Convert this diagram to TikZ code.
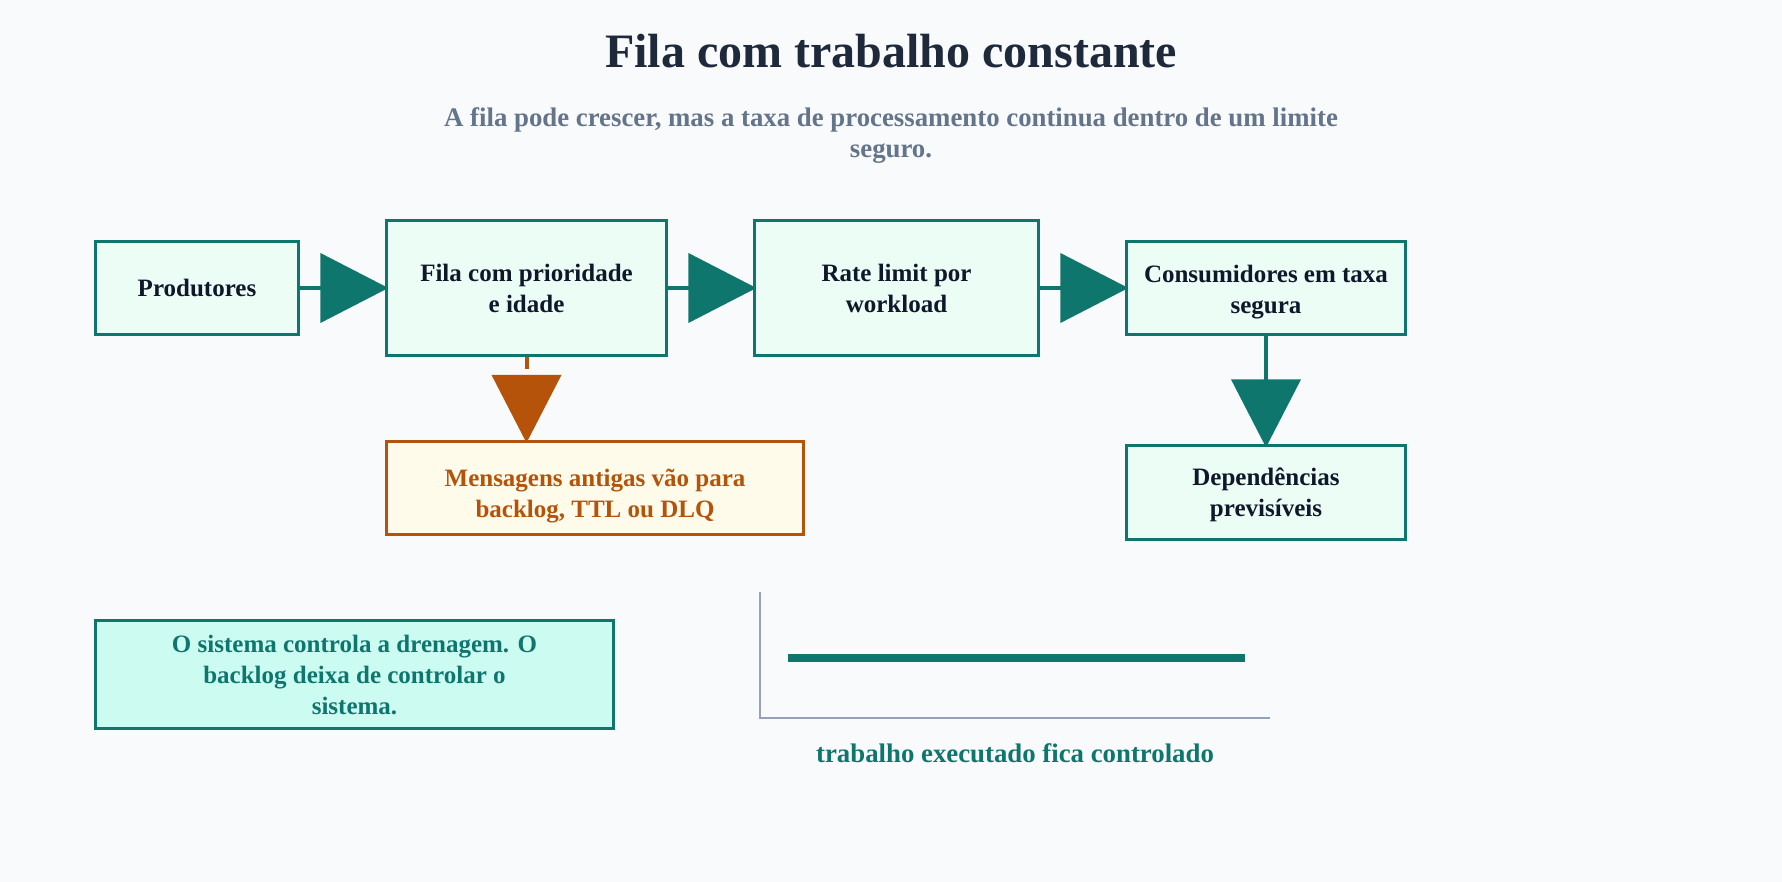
\documentclass[tikz,border=0pt]{standalone}
\usepackage{fontspec}
\setmainfont{Liberation Serif}
\usetikzlibrary{arrows.meta,positioning}
\definecolor{pagebg}{HTML}{F8FAFC}
\definecolor{tealline}{HTML}{0F766E}
\definecolor{mint}{HTML}{ECFDF5}
\definecolor{mintdeep}{HTML}{CCFBF1}
\definecolor{rust}{HTML}{B45309}
\definecolor{cream}{HTML}{FFFBEB}
\definecolor{ink}{HTML}{0F172A}
\definecolor{titleink}{HTML}{1E293B}
\definecolor{subink}{HTML}{64748B}
\definecolor{axisgray}{HTML}{94A3B8}

\begin{document}
\begin{tikzpicture}[
  >={Triangle[length=34pt,width=34.5pt]},
  node distance=42.5pt,
  every node/.style={font=\bfseries\fontsize{12.5}{15.5}\selectfont},
  stage/.style={draw=tealline,line width=1.5pt,fill=mint,text=ink,align=center,minimum height=46.5pt},
  warn/.style={draw=rust,line width=1.5pt,fill=cream,text=rust,align=center,minimum height=46.5pt},
  flow/.style={->,draw=tealline,line width=2pt,shorten >=-1.7pt},
  spill/.style={->,draw=rust,line width=2pt,dash pattern=on 6pt off 4pt,shorten >=-1.7pt},
  axis/.style={draw=axisgray,line width=1.25pt},
  trend/.style={draw=tealline,line width=4pt}
]
  \path[use as bounding box,fill=pagebg] (0,0) rectangle (891pt,-441pt);

  \node[anchor=base,text=titleink,font=\bfseries\fontsize{24}{28}\selectfont] (title) at (445.5pt,-34pt) {Fila com trabalho constante};
  \node[align=center,text=subink,font=\bfseries\fontsize{13.4}{15.5}\selectfont] (subtitle) at (445.5pt,-68pt)
    {A fila pode crescer, mas a taxa de processamento continua dentro de um limite\\seguro.};

  \node[stage,minimum width=101.5pt] (prod) at (98.5pt,-144pt) {Produtores};
  \node[stage,minimum width=140pt,minimum height=67pt,right=of prod] (fila) {Fila com prioridade\\e idade};
  \node[stage,minimum width=142pt,minimum height=67pt,right=of fila] (rate) {Rate limit por\\workload};
  \node[stage,minimum width=139.5pt,right=of rate] (cons) {\rule{0pt}{13.1pt}Consumidores em taxa\\segura};
  \node[stage,minimum width=139.5pt,minimum height=47pt,below=54pt of cons] (dep) {\rule{0pt}{11.6pt}Dependências\\previsíveis};
  \node[warn,minimum width=208.5pt,below=41.5pt of fila.south west,anchor=north west] (msg) {\rule{0pt}{17.6pt}Mensagens antigas vão para\\backlog, TTL ou DLQ};
  \node[stage,fill=mintdeep,text=tealline,minimum width=259pt,minimum height=54pt,
    below=141.5pt of prod.south west,anchor=north west] (note) {O sistema controla a drenagem. O\\backlog deixa de controlar o\\sistema.};

  \draw[flow] (prod) -- (fila);
  \draw[flow] (fila) -- (rate);
  \draw[flow] (rate) -- (cons);
  \draw[flow] (cons) -- (dep);
  \draw[spill] (fila.south) -- (fila.south |- msg.north);

  \coordinate (origin) at (380pt,-359pt);
  \draw[axis] (380pt,-296pt) -- (origin) -- (635pt,-359pt);
  \draw[trend] (394pt,-329pt) -- (622.5pt,-329pt);
  \node[anchor=base,text=tealline,font=\bfseries\fontsize{13.4}{15.5}\selectfont] (chartlabel) at (507.5pt,-381pt) {trabalho executado fica controlado};
\end{tikzpicture}
\end{document}
